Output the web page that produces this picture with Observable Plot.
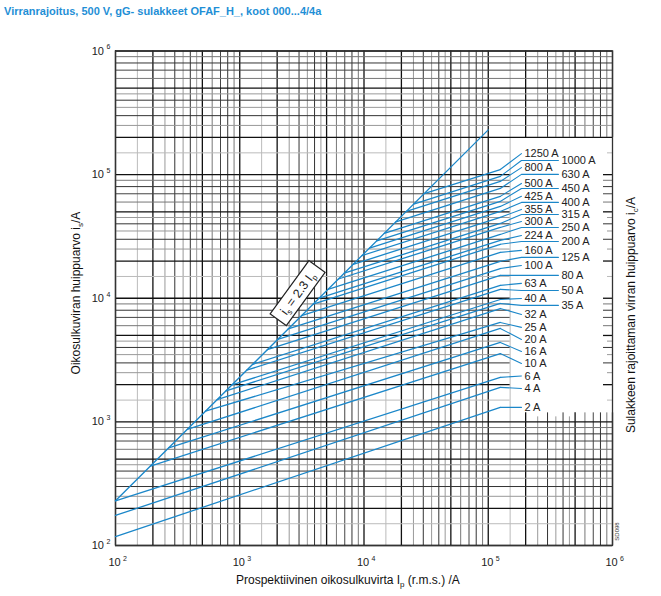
<!DOCTYPE html>
<html><head><meta charset="utf-8">
<script src="https://cdn.jsdelivr.net/npm/d3@7"></script>
<script src="https://cdn.jsdelivr.net/npm/@observablehq/plot@0.6"></script>
<style>
body{margin:0;background:#fff;font-family:"Liberation Sans",Arial,sans-serif;}
#wrap{position:relative;width:661px;height:596px;overflow:hidden}
#chart{position:absolute;left:0;top:0}
#title{position:absolute;left:4px;top:5px;font-size:11px;font-weight:bold;color:#1f8fd6;white-space:nowrap}
.ax{position:absolute;font-size:12px;color:#111;white-space:nowrap;transform-origin:center center}
.ax sub{font-size:8px;vertical-align:-3px;line-height:0}
</style></head><body>
<div id="wrap">
<div id="chart"></div>
<div id="title">Virranrajoitus, 500 V, gG- sulakkeet OFAF_H_, koot 000...4/4a</div>
<div class="ax" id="xt">Prospektiivinen oikosulkuvirta I<sub>p</sub> (r.m.s.) /A</div>
<div class="ax" id="yl">Oikosulkuviran huippuarvo i<sub>s</sub>/A</div>
<div class="ax" id="yr">Sulakkeen rajoittaman virran huippuarvo i<sub>c</sub>/A</div>
</div>
<script>
// ---- data ----
const fuses = ["2 A","4 A","6 A","10 A","16 A","20 A","25 A","32 A","35 A","40 A","50 A","63 A","80 A","100 A","125 A","160 A","200 A","224 A","250 A","300 A","315 A","355 A","400 A","425 A","450 A","500 A","630 A","800 A","1000 A","1250 A"];
// start point of each cut-off line (prospective current Ip, peak is)
const startIp = [100,100,100,191,268,378,530,657,776,865,1138,1271,1667,2023,2455,3141,3899,4365,5129,6223,6934,8185,9638,11066,12677,14555,18072,21928,25119,30476];
const startIs = [118,175,230,439,616,869,1219,1511,1785,1990,2617,2923,3834,4653,5647,7224,8968,10040,11797,14313,15948,18826,22167,25452,29157,33477,41566,50434,57774,70095];
// end point of each line
const endIp = 125000;
const endIs = [1310,1900,2290,3570,4390,5700,6370,8260,9080,9770,11800,12700,15300,17400,19900,23500,27300,29400,32800,37400,40300,45100,50400,55300,60700,66700,77300,88100,96700,110000];
// label positions (value level of label) and column (0 = inner, 1 = outer)
const labelIs = [1310,1862,2350,2970,3710,4640,5810,7390,8750,9960,11550,13200,15300,18400,21400,24400,28800,32200,37400,41800,47600,52300,59600,66700,77300,84900,100400,114000,130000,148000];
const labelCol = [0,0,0,0,0,0,0,0,1,0,1,0,1,0,1,0,1,0,1,0,1,0,1,0,1,0,1,0,1,0];
const leaderIp = [185000, 367000];
// unlimited peak line is = 2.3 Ip
const diagIp = [100, 100000];
const diagIs = [230, 230000];
const noteIp = 2950, noteIs = 10900;
// axis ticks
const decades = [2,3,4,5,6];
const gridMult = [1,1.5,2,2.5,3,3.5,4,4.5,5,6,7,8,9];

// ---- build tables ----
const col = {1:"#111",1.5:"#bbb",2:"#111",2.5:"#999",3:"#333",3.5:"#999",4:"#333",4.5:"#999",5:"#111",6:"#777",7:"#444",8:"#333",9:"#777"};
const grid = [];
for (const d of [2,3,4,5]) for (const m of gridMult) grid.push({v:m*10**d, m, c:col[m]});
grid.push({v:1e6, m:1, c:col[1]});
const order = g => (g.c==="#bbb"?0:g.c==="#999"?1:g.c==="#777"?2:3);
grid.sort((a,b)=>order(a)-order(b));
const sw = g => (g.c==="#111" ? 1.3 : 1);
const blue = "#1b87c9";

const segs = [];
fuses.forEach((f,i)=>{ segs.push({f, x:startIp[i], y:startIs[i]}); segs.push({f, x:endIp, y:endIs[i]}); });
const diag = diagIp.map((x,i)=>({x, y:diagIs[i]}));
const leaders = [];
fuses.forEach((f,i)=>{
  leaders.push({f, x:endIp, y:endIs[i]});
  leaders.push({f, x:leaderIp[0], y:labelIs[i]});
  if (labelCol[i]===1) leaders.push({f, x:leaderIp[1], y:labelIs[i]});
});
const labels = fuses.map((f,i)=>({f, x:leaderIp[labelCol[i]], y:labelIs[i]}));

const vFull = grid.filter(g=>g.v<=1.5e5);
const vPart = grid.filter(g=>g.v>1.5e5);
const hFull = grid.filter(g=>g.v<=1e3 || g.v>=2e5);
const hPart = grid.filter(g=>g.v>1e3 && g.v<2e5);
const tickLen = g => (Number.isInteger(g.m) ? 9 : 5);

const plot = Plot.plot({
  width:661, height:596,
  marginLeft:115, marginRight:49, marginTop:50.5, marginBottom:51,
  style:{fontFamily:"'Liberation Sans', Arial, sans-serif", background:"transparent"},
  x:{type:"log", domain:[1e2,1e6], axis:null},
  y:{type:"log", domain:[1e2,1e6], axis:null},
  color:{type:"identity"},
  marks:[
    Plot.ruleX(vFull, {x:"v", y1:100, y2:1e6, stroke:"c", strokeWidth:sw}),
    Plot.ruleX(vPart, {x:"v", y1:100, y2:1e3, stroke:"c", strokeWidth:sw}),
    Plot.ruleX(vPart, {x:"v", y1:2e5, y2:1e6, stroke:"c", strokeWidth:sw}),
    Plot.ruleX(vPart, {x:"v", y1:1e3, y2:g=>10**(3+tickLen(g)/123.6), stroke:"c", strokeWidth:sw}),
    Plot.ruleY(hFull, {y:"v", x1:100, x2:1e6, stroke:"c", strokeWidth:sw}),
    Plot.ruleY(hPart, {y:"v", x1:100, x2:1.5e5, stroke:"c", strokeWidth:sw}),
    Plot.ruleY(hPart, {y:"v", x1:g=>10**(6-tickLen(g)/124.25), x2:1e6, stroke:"c", strokeWidth:sw}),
    Plot.frame({stroke:"#333", strokeWidth:1.3}),
    Plot.line(diag, {x:"x", y:"y", stroke:blue, strokeWidth:1.3}),
    Plot.line(segs, {x:"x", y:"y", z:"f", stroke:blue, strokeWidth:1.3}),
    Plot.line(leaders, {x:"x", y:"y", z:"f", stroke:blue, strokeWidth:1.1}),
    Plot.text(labels, {x:"x", y:"y", text:"f", textAnchor:"start", dx:3, fontSize:11, fill:"#222"}),
    // x tick labels
    Plot.text(decades, {x:d=>10**d, y:100, text:()=>"10", dy:17, dx:-1, fontSize:11, fill:"#222"}),
    Plot.text(decades, {x:d=>10**d, y:100, text:d=>String(d), dy:13, dx:7.5, textAnchor:"start", fontSize:7, fill:"#222"}),
    // y tick labels
    Plot.text(decades, {x:100, y:d=>10**d, text:()=>"10", dx:-11.5, textAnchor:"end", fontSize:11, fill:"#222"}),
    Plot.text(decades, {x:100, y:d=>10**d, text:d=>String(d), dx:-9, dy:-4, textAnchor:"start", fontSize:7, fill:"#222"}),
    Plot.text(["SD098"], {x:1e6, y:100, text:d=>d, dx:5, dy:-14, rotate:-90, fontSize:6, fill:"#333"})
  ]
});
document.getElementById("chart").appendChild(plot);

// annotation box  i_s = 2.3 I_p
const X = plot.scale("x"), Y = plot.scale("y");
const g = d3.select(plot).append("g")
  .attr("transform", `translate(${X.apply(noteIp)},${Y.apply(noteIs)}) rotate(-54)`);
g.append("rect").attr("x",-33).attr("y",-10).attr("width",66).attr("height",20)
  .attr("fill","#fff").attr("stroke","#222").attr("stroke-width",1.2);
const t = g.append("text").attr("text-anchor","middle").attr("dy","0.35em")
  .attr("font-size",12.5).attr("fill","#222").attr("font-family","'Liberation Sans', Arial, sans-serif");
t.append("tspan").text("i");
t.append("tspan").text("s").attr("font-size",8).attr("dy",3);
t.append("tspan").text(" = 2.3 I").attr("dy",-3);
t.append("tspan").text("p").attr("font-size",8).attr("dy",3);

// axis titles positioning
function place(id, cx, cy, rot){
  const el = document.getElementById(id);
  const w = el.offsetWidth, h = el.offsetHeight;
  el.style.left = (cx - w/2) + "px";
  el.style.top = (cy - h/2) + "px";
  if (rot) el.style.transform = `rotate(${rot}deg)`;
}
place("xt", 348, 580, 0);
place("yl", 76, 293, -90);
place("yr", 631, 315, -90);
</script>
</body></html>
